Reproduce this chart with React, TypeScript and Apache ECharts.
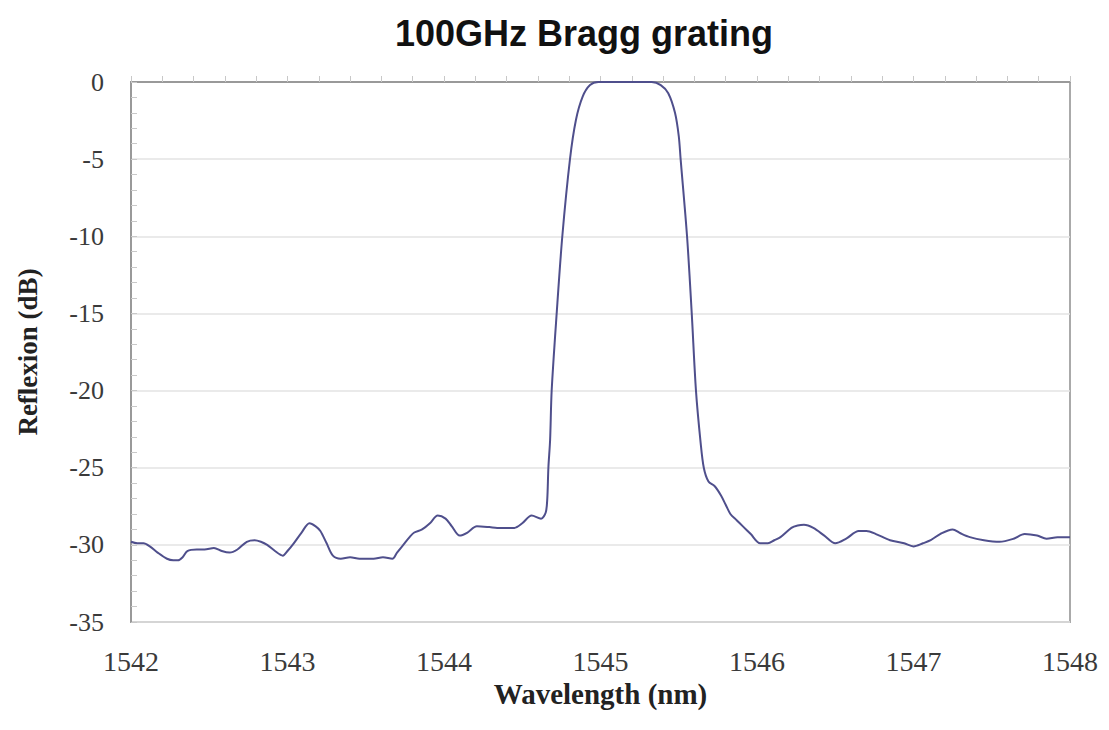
import React, { useEffect, useRef } from "react";
import * as echarts from "echarts";

const wavelength = [
  1542.0, 1542.04, 1542.08, 1542.12, 1542.17, 1542.23, 1542.27, 1542.3, 1542.33, 1542.36,
  1542.42, 1542.47, 1542.53, 1542.58, 1542.63, 1542.68, 1542.74, 1542.79, 1542.83, 1542.87,
  1542.92, 1542.97, 1543.0, 1543.04, 1543.09, 1543.14, 1543.18, 1543.21, 1543.25, 1543.29,
  1543.34, 1543.4, 1543.46, 1543.51, 1543.55, 1543.61, 1543.67, 1543.7, 1543.74, 1543.78,
  1543.81, 1543.86, 1543.91, 1543.96, 1544.01, 1544.05, 1544.1, 1544.15, 1544.21, 1544.29,
  1544.34, 1544.4, 1544.45, 1544.5, 1544.56, 1544.62, 1544.65, 1544.66, 1544.667, 1544.678,
  1544.688, 1544.72, 1544.756, 1544.805, 1544.843, 1544.886, 1544.933, 1544.986, 1545.1, 1545.2,
  1545.327, 1545.385, 1545.433, 1545.476, 1545.5, 1545.512, 1545.553, 1545.583, 1545.61, 1545.64,
  1545.66, 1545.69, 1545.73, 1545.77, 1545.8, 1545.83, 1545.87, 1545.91, 1545.96, 1546.02,
  1546.07, 1546.11, 1546.15, 1546.22, 1546.26, 1546.3, 1546.36, 1546.43, 1546.5, 1546.57,
  1546.65, 1546.7, 1546.76, 1546.85, 1546.94, 1547.0, 1547.06, 1547.11, 1547.17, 1547.25,
  1547.3, 1547.36, 1547.45, 1547.55, 1547.64, 1547.71, 1547.79, 1547.85, 1547.92, 1548.0,
];

const reflexion = [
  -29.8, -29.9, -29.9, -30.1, -30.5, -30.9, -31.0, -31.0, -30.8, -30.4,
  -30.3, -30.3, -30.2, -30.4, -30.5, -30.3, -29.8, -29.7, -29.8, -30.0,
  -30.4, -30.7, -30.4, -29.9, -29.2, -28.6, -28.8, -29.1, -29.9, -30.7,
  -30.9, -30.8, -30.9, -30.9, -30.9, -30.8, -30.9, -30.5, -30.0, -29.5,
  -29.2, -29.0, -28.6, -28.1, -28.3, -28.8, -29.4, -29.2, -28.8, -28.85,
  -28.9, -28.9, -28.9, -28.6, -28.1, -28.3, -27.9, -27.0, -25.0, -23.2,
  -20.0, -15.0, -10.0, -5.0, -2.46, -0.95, -0.2, 0, 0, 0,
  0, -0.2, -0.73, -2.0, -3.5, -5.0, -10.0, -15.0, -20.0, -23.4,
  -25.0, -25.9, -26.2, -26.8, -27.4, -28.0, -28.4, -28.8, -29.3, -29.9,
  -29.9, -29.7, -29.5, -28.9, -28.75, -28.7, -28.9, -29.4, -29.9, -29.6,
  -29.1, -29.1, -29.3, -29.7, -29.9, -30.1, -29.9, -29.7, -29.3, -29.0,
  -29.25, -29.5, -29.7, -29.8, -29.6, -29.3, -29.4, -29.6, -29.5, -29.5,
];

const titleText = "100GHz Bragg grating";
const xName = "Wavelength (nm)";
const yName = "Reflexion (dB)";

export default function App() {
  const ref = useRef<HTMLDivElement>(null);
  useEffect(() => {
    if (!ref.current) return;
    const chart = echarts.init(ref.current, undefined, { renderer: "svg" });
    const serif = "'Liberation Serif', 'Times New Roman', serif";
    chart.setOption({
      animation: false,
      backgroundColor: "#ffffff",
      title: {
        text: titleText,
        left: 390,
        top: 10,
        textStyle: {
          fontFamily: "'Liberation Sans', Arial, sans-serif",
          fontWeight: "bold",
          fontSize: 36,
          color: "#111",
        },
      },
      grid: {
        left: 131,
        right: 39,
        top: 82,
        bottom: 108,
        show: true,
        borderColor: "#aaaaaa",
        borderWidth: 2,
      },
      xAxis: {
        type: "value",
        min: 1542,
        max: 1548,
        interval: 1,
        name: xName,
        nameLocation: "middle",
        nameGap: 51,
        nameTextStyle: { fontFamily: serif, fontWeight: "bold", fontSize: 29, color: "#222" },
        axisLine: { show: true, lineStyle: { color: "#999", width: 2 } },
        axisTick: { show: true, inside: true, length: 6, lineStyle: { color: "#c8c8c8" } },
        minorTick: { show: true, splitNumber: 5, length: 6, lineStyle: { color: "#c8c8c8" } },
        axisLabel: {
          fontFamily: serif,
          fontSize: 28,
          color: "#3a3a3a",
          margin: 25,
          formatter: (v: number) => String(Math.round(v)),
        },
        splitLine: { show: false },
      },
      yAxis: {
        type: "value",
        min: -35,
        max: 0,
        interval: 5,
        name: yName,
        nameLocation: "middle",
        nameGap: 90,
        nameRotate: 90,
        nameTextStyle: { fontFamily: serif, fontWeight: "bold", fontSize: 27, color: "#222" },
        axisLine: { show: true, lineStyle: { color: "#999", width: 2 } },
        axisTick: { show: true, inside: true, length: 6, lineStyle: { color: "#c8c8c8" } },
        minorTick: { show: true, splitNumber: 5, length: 6, lineStyle: { color: "#c8c8c8" } },
        axisLabel: { fontFamily: serif, fontSize: 26, color: "#3a3a3a", margin: 27 },
        splitLine: { show: true, lineStyle: { color: "#e3e3e3", width: 1.5 } },
      },
      series: [
        {
          type: "line",
          data: wavelength.map((w, i) => [w, reflexion[i]]),
          showSymbol: false,
          smooth: 0.3,
          lineStyle: { color: "#4f4f8c", width: 2 },
        },
      ],
    });
    return () => chart.dispose();
  }, []);
  return (
    <div
      ref={ref}
      style={{ position: "fixed", left: 0, top: 0, width: 1109, height: 730, background: "#fff" }}
    />
  );
}
